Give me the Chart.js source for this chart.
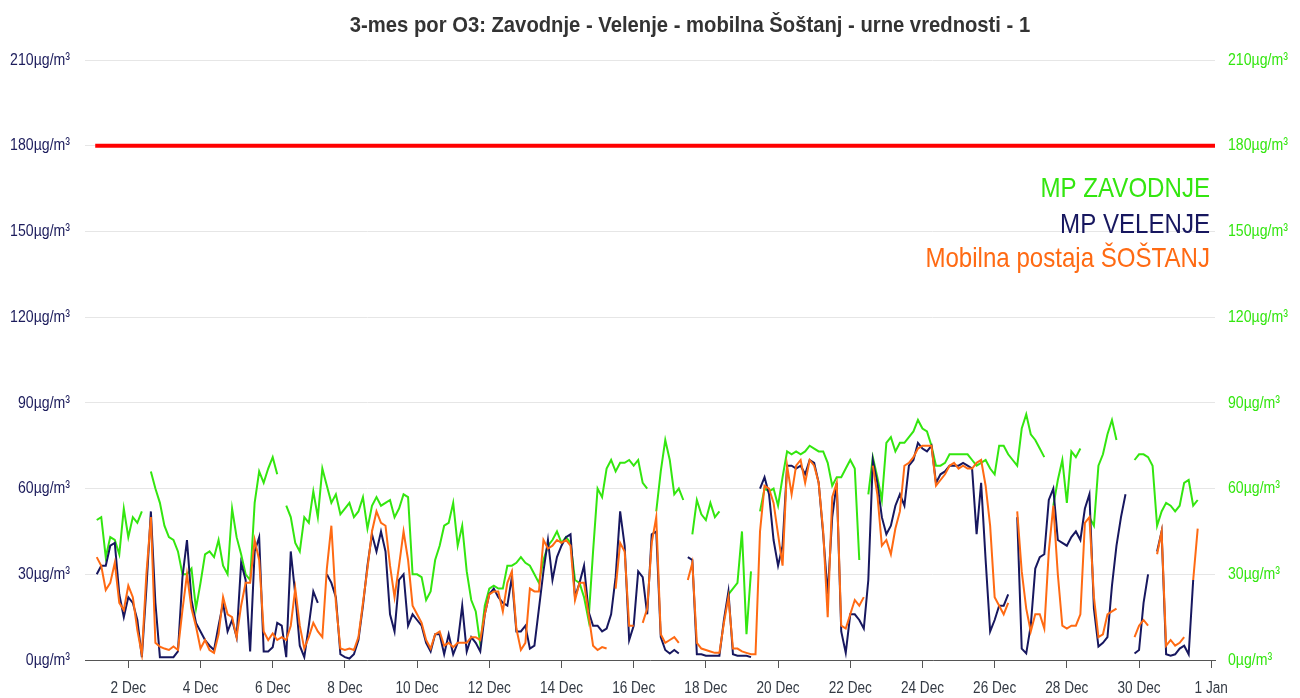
<!DOCTYPE html>
<html><head><meta charset="utf-8">
<script src="https://cdn.jsdelivr.net/npm/chart.js@4.4.0/dist/chart.umd.min.js"></script>
<style>html,body{margin:0;padding:0;background:#fff;overflow:hidden}#wrap{width:1300px;height:698px;position:relative}</style>
</head><body><div id="wrap"><canvas id="c" width="1300" height="698"></canvas></div>
<script>
const FONT = "'Liberation Sans Narrow','Arial Narrow','Liberation Sans',Arial,sans-serif";
const chartTitle = '3-mes por O3: Zavodnje - Velenje - mobilna Šoštanj - urne vrednosti - 1';
const seriesNames = ['MP ZAVODNJE', 'MP VELENJE', 'Mobilna postaja ŠOŠTANJ'];

// hours since 1 Dec 00:00, one sample every 3 hours (8 per day, 31 days)
const hours = Array.from({length: 248}, (_, i) => i * 3);

const zavodnje = [
 null,49,50,36,43,42,37,53,
 43,50,48,52,null,66,60,55,
 47,43,42,38,30,30,32,18,
 27,37,38,36,42,33,30,53,
 43,37,30,28,55,66,62,67,
 71,65,null,54,50,41,38,50,
 48,59,50,67,61,55,58,51,
 53,55,50,52,57,46,54,57,
 54,55,56,50,53,58,57,30,
 30,29,21,24,35,40,47,48,
 55,40,47,31,21,17,5.5,19,
 25,26,25,25,33,33,34,36,
 34,33,30,27,35,40,42,45,
 41,43,41,28,27,22,14,38,
 60,57,67,70,66,69,69,70,
 68,70,62,60,null,52,66,77,
 70,58,60,56,null,44,56,51,
 49,55,50,52,null,23,25,27,
 45,9,31,null,52,60,59,60,
 54,64,73,72,73,72,73,75,
 74,73,73,69,61,64,64,67,
 70,67,35,null,58,71,64,56,
 76,78,73,76,76,78,80,84,
 81,80,75,68,68,69,72,72,
 72,72,72,70,68,69,70,67,
 65,75,75,72,70,68,81,86,
 79,77,74,71,null,54,63,70,
 55,73,71,74,null,50,47,68,
 72,79,84,77,null,null,null,70,
 72,72,71,68,47,52,55,54,
 52,54,62,63,54,56,null,null
];

const velenje = [
 null,30,33,33,40,41,23,15,
 22,20,14,1,25,52,20,1,
 1,1,1,3,29,42,21,13,
 10,7,5,3.5,12,20,10,14,
 8,34,28,3,38,43,3,3,
 4.5,13,12,1,38,23,5,1,
 12,24,20,null,30,27,22,2,
 1,0.5,2,7,19,33,44,38,
 45,38,16,10,28,30,12,16,
 14,12,6,3,9,9,2,9,
 2,6,19,3,8,6,3,16,
 23,25,22,20,19,29,10,10,
 12,4,5,18,31,42,28,36,
 40,43,44,22,27,33,17,12,
 12,10,11,16,29,52,40,7,
 12,31,29,16,44,45,8,3.5,
 2.3,3.5,2.3,null,36,35,2,2,
 1.5,1.5,1.5,1.5,14,24,2,1.5,
 1.5,1.5,1,null,60,64,58,42,
 33,40,68,68,67,68,65,70,
 69,62,44,23,50,62,10,2.5,
 16,16,14,11,28,70,62,50,
 44,47,54,58,54,68,70,76,
 74,73,75,62,65,66,68,68,
 68,69,68,67,44,62,35,10,
 14,19,19,23,null,50,4,2.3,
 12,32,36,37,56,60,42,41,
 40,43,45,42,53,58,18,4.7,
 6,8,26,40,50,58,null,2.3,
 3.5,20,30,null,38,45,2,1.5,
 2,4,5,2,28,null,null,null
];

const sostanj = [
 null,36,33,24.5,27,34,20,17.5,
 26,22,10.5,2,30,50,6,4.7,
 4,3.5,4.7,3.5,17.5,30,18,11.7,
 4,7,3.5,2.5,9,22,16,15,
 8,19,27,27,42,35,10,7,
 9.3,7,8,7,12,25,12,4,
 8,13,10,8,32,47,20,4,
 3.5,4,3.5,8,20,32,45,52,
 48,47,33,22,33,45,35,19,
 16,13,7,4,9,10,5,6,
 4.5,6,6,6,8,8,7,16,
 23,24,24,17,27,31,11,3.5,
 6,25,24,24,42,39,40,42,
 41,42,40,21,27,27,16,5,
 3.5,4.5,4,null,25,41,38,12,
 12,null,13,18,41,50,9,6,
 7,8,6,null,28,34,6,4,
 3.5,3,2.5,2.5,13,22,4,4,
 3,2.5,2,2,45,61,60,55,
 44,33,68,58,68,70,62,70,
 68,62,45,15,57,62,12,11,
 16,21,19,22,null,68,58,40,
 42,37,46,52,68,69,71,74,
 75,75,75,61,63,65,68,69,
 67,68,67,67,69,70,61,47,
 22,19,16,20,null,52,31,18,
 10,16,16,11,38,54,30,12,
 11,12,12,16,48,50,22,8,
 9,16,17,18,null,52,null,8,
 12,14,12,null,37,45,5,7,
 5,6,8,null,28,46,null,null
];

const limitValue = 180;
const limitHours = [2, 748];

const yTicks = [0, 30, 60, 90, 120, 150, 180, 210];
const yUnit = 'µg/m³';
const xTickHours = [24, 72, 120, 168, 216, 264, 312, 360, 408, 456, 504, 552, 600, 648, 696, 744];
const xTickLabels = ['2 Dec', '4 Dec', '6 Dec', '8 Dec', '10 Dec', '12 Dec', '14 Dec', '16 Dec', '18 Dec', '20 Dec', '22 Dec', '24 Dec', '26 Dec', '28 Dec', '30 Dec', '1 Jan'];

const colors = {green: '#33e60f', navy: '#17175f', orange: '#ff6a13', red: '#ff0000', leftTick: '#1c1c5c', xTick: '#333a44'};

const toPts = arr => hours.map((h, i) => ({x: h, y: arr[i]}));
const lineDs = (label, arr, color) => ({
  label, data: toPts(arr), borderColor: color, backgroundColor: color,
  borderWidth: 2, pointRadius: 0, spanGaps: false, tension: 0, fill: false
});

// draw condensed text (narrow face is not installed, so squeeze horizontally)
function narrowText(ctx, text, x, y, sx, align) {
  ctx.save();
  ctx.translate(x, y);
  ctx.scale(sx, 1);
  ctx.textAlign = align;
  ctx.fillText(text, 0, 0);
  ctx.restore();
}

const overlay = {
  id: 'overlay',
  afterDraw(chart) {
    const ctx = chart.ctx;
    ctx.save();
    // title
    ctx.font = 'bold 22px ' + FONT;
    ctx.fillStyle = '#333333';
    ctx.textBaseline = 'alphabetic';
    narrowText(ctx, chartTitle, 690, 32, 0.92, 'center');
    // legend text
    ctx.font = '28px ' + FONT;
    const lc = [colors.green, colors.navy, colors.orange];
    const by = [197, 233, 267];
    seriesNames.forEach((n, i) => { ctx.fillStyle = lc[i]; narrowText(ctx, n, 1210, by[i], 0.86, 'right'); });
    // y tick labels
    ctx.font = '17px ' + FONT;
    ctx.textBaseline = 'middle';
    const ys = chart.scales.y;
    yTicks.forEach(v => {
      const py = ys.getPixelForValue(v);
      ctx.fillStyle = colors.leftTick;
      narrowText(ctx, v + yUnit, 70, py, 0.83, 'right');
      ctx.fillStyle = colors.green;
      narrowText(ctx, v + yUnit, 1228, py, 0.83, 'left');
    });
    // x tick labels
    ctx.font = '16px ' + FONT;
    ctx.fillStyle = colors.xTick;
    const xs = chart.scales.x;
    xTickHours.forEach((h, i) => {
      narrowText(ctx, xTickLabels[i], xs.getPixelForValue(h), 689, 0.85, 'center');
    });
    ctx.restore();
  }
};

const yCommon = {
  min: 0, max: 210,
  afterBuildTicks: s => { s.ticks = yTicks.map(v => ({value: v})); },
  ticks: {display: false},
  border: {display: false},
  afterFit: s => { s.width = 85; }
};

new Chart(document.getElementById('c'), {
  type: 'line',
  data: {datasets: [
    {label: 'limit', data: limitHours.map(h => ({x: h, y: limitValue})), borderColor: colors.red, borderWidth: 4, pointRadius: 0},
    lineDs(seriesNames[2], sostanj, colors.orange),
    lineDs(seriesNames[1], velenje, colors.navy),
    lineDs(seriesNames[0], zavodnje, colors.green)
  ]},
  options: {
    responsive: false, animation: false,
    layout: {padding: {top: 60, bottom: 0, left: 0, right: 0}},
    plugins: {legend: {display: false}, title: {display: false}, tooltip: {enabled: false}},
    scales: {
      x: {
        type: 'linear', min: -4.8, max: 746.5,
        afterBuildTicks: s => { s.ticks = xTickHours.map(v => ({value: v})); },
        ticks: {display: false},
        grid: {drawOnChartArea: false, drawTicks: true, tickLength: 8, color: '#555555'},
        border: {display: true, color: '#555555', width: 1},
        afterFit: s => { s.height = 38; }
      },
      y: Object.assign({}, yCommon, {
        position: 'left',
        grid: {color: '#e6e6e6', drawTicks: false}
      }),
      y1: Object.assign({}, yCommon, {
        position: 'right',
        grid: {display: false, drawTicks: false}
      })
    }
  },
  plugins: [overlay]
});
</script>
</body></html>
